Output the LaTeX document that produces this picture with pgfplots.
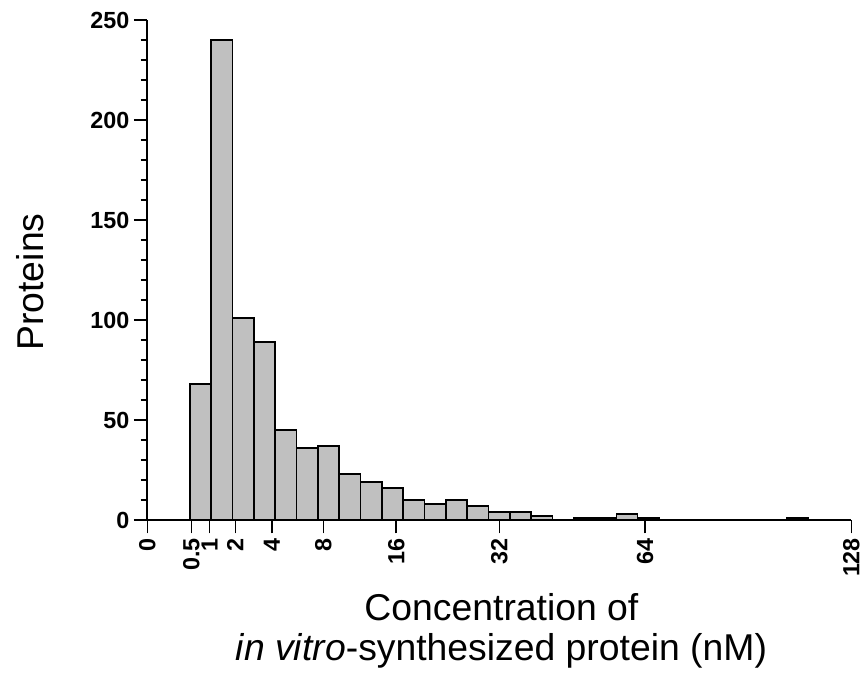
\documentclass[border=0pt]{standalone}
\usepackage{pgfplots}
\usepackage{pgfplotstable}
\pgfplotsset{compat=1.18}
\usepackage{fontspec}
\setmainfont{Liberation Sans}

\definecolor{bargray}{RGB}{192,192,192}

% bin centres (nM) and counts; bins are equal width on a square-root axis
\pgfplotstableread{
conc count
0.7333 68
1.4374 240
2.3762 101
3.5498 89
4.9582 45
6.6013 36
8.4792 37
10.5918 23
12.9391 19
15.5212 16
18.3381 10
21.3897 8
24.6761 10
28.1972 7
31.9530 4
35.9436 4
40.1690 2
49.3239 1
54.2535 1
59.4179 3
64.8170 1
109.1837 1
}\bins

\begin{document}
\begin{tikzpicture}
\begin{axis}[
    name=ax,
    width=528pt, height=375pt, scale only axis,
    axis lines=left,
    axis line style={-, line width=1.4pt},
    % x is plotted as sqrt(concentration)
    xmin=0, xmax=11.31371, ymin=0, ymax=250,
    xtick={0,0.70711,1,1.41421,2,2.82843,4,5.65685,8,11.31371},
    xticklabels={0,0.5,1,2,4,8,16,32,64,128},
    ytick={0,50,...,250},
    minor y tick num=4,
    tick align=outside,
    major tick length=10pt, minor tick length=5pt,
    tick style={black, line width=1.2pt},
    /pgf/number format/assume math mode=true,
    ticklabel style={font=\fontsize{17.5}{17.5}\selectfont\bfseries},
    xticklabel style={rotate=90, anchor=east},
    xlabel={Concentration of\\\textit{in vitro}-synthesized protein (nM)},
    xlabel style={at={(axis description cs:0.503,0)}, yshift=-83pt, anchor=center,
        align=center, font=\fontsize{28}{30}\selectfont},
    ylabel={Proteins},
    ylabel style={at={(axis description cs:-0.166,0.476)}, anchor=center,
        font=\fontsize{28}{30}\selectfont},
    clip=false,
]
\addplot[ybar, bar width=0.3426, fill=bargray, draw=black, line width=1.2pt]
    table[x expr={sqrt(\thisrow{conc})}, y=count] {\bins};
\end{axis}
\pgfresetboundingbox
\path ([shift={(-110.5pt,-114pt)}]ax.south west) rectangle ([shift={(9.5pt,15pt)}]ax.north east);
\end{tikzpicture}
\end{document}
